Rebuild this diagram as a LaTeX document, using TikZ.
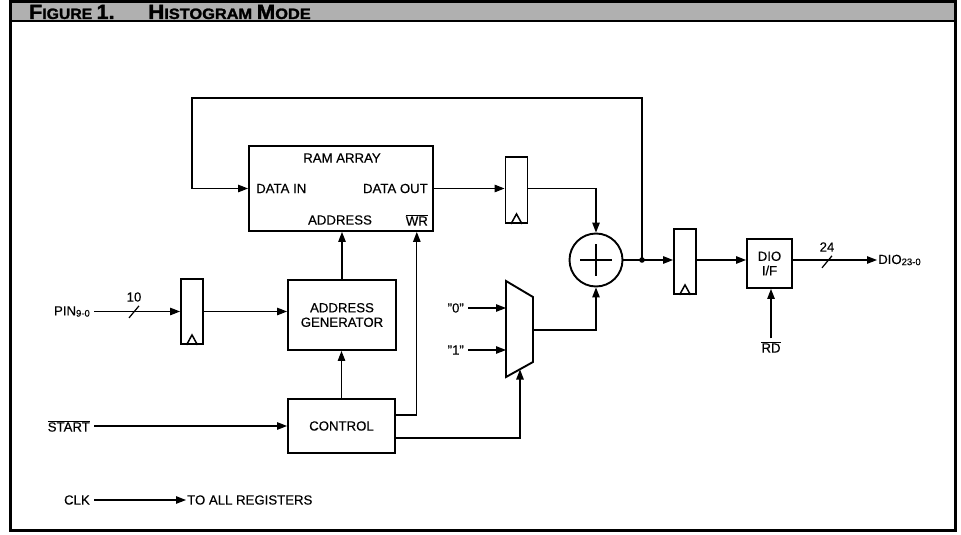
\documentclass[tikz,border=0pt]{standalone}
\usepackage{fontspec}
\setmainfont{Liberation Sans}[FakeBold=0.35]
\newfontfamily\ttlfont{Liberation Sans}[BoldFeatures={FakeBold=1.6}]
\usetikzlibrary{arrows.meta,calc}
\newcommand{\lblfont}{\fontsize{13.2}{14.5}\selectfont}
\newcommand{\subfont}{\fontsize{9.5}{9.5}\selectfont}
\newcommand{\ovl}[1]{$\overline{\hbox{#1}}$}
\newcommand{\ttlbig}{\fontsize{20.5}{20.5}\selectfont}
\newcommand{\ttlsmall}{\fontsize{15}{15}\selectfont}
\begin{document}
\begin{tikzpicture}[x=1pt,y=-1pt,
  box/.style={draw, line width=1.9pt, inner sep=0pt, align=center, font=\lblfont},
  reg/.style={draw, line width=1.9pt, minimum width=22pt, minimum height=65pt, inner sep=0pt},
  wire/.style={line width=1.2pt},
  arr/.style={wire, -{Triangle[length=10pt,width=7.5pt]}},
  lbl/.style={font=\lblfont, inner sep=1pt},
  clock/.style={line width=1.5pt}]
\useasboundingbox (0,0) rectangle (961,535);
% frame and banner
\fill[gray!62] (10,2) rectangle (955,21);
\draw[line width=2.2pt] (10,21) -- (955,21);
\draw[line width=3pt] (10,2) rectangle (955,530);
\node[anchor=west, inner sep=0pt, font=\ttlfont\bfseries] (t1) at (29,12)
  {\scalebox{1.05}[1]{\ttlbig F\ttlsmall IGURE \ttlbig 1.}};
\node[anchor=west, inner sep=0pt, font=\ttlfont\bfseries] (t2) at (148,12)
  {\scalebox{1.09}[1]{\ttlbig H\ttlsmall ISTOGRAM \ttlbig M\ttlsmall ODE}};

% blocks
\node[reg] (reg0) at (192,311.5) {};
\node[box, minimum width=108pt, minimum height=70pt] (ag) at (342,315) {ADDRESS\\GENERATOR};
\node[box, minimum width=184pt, minimum height=85pt] (ram) at (341,188.5) {};
\node[box, minimum width=107pt, minimum height=54pt] (ctrl) at (341.5,426) {CONTROL};
\node[reg, minimum height=66pt] (reg1) at (516.5,190) {};
\node[draw, circle, line width=1.9pt, minimum size=53pt, inner sep=0pt] (add) at (596,260) {};
\node[reg] (reg3) at (685,261.5) {};
\node[box, minimum width=45pt, minimum height=49pt] (dio) at (769.5,263.5) {DIO\\I/F};

% clock triangles
\draw[clock] ($(reg0.south)+(-5.5,0)$) -- ++(5.5,-10) -- ++(5.5,10);
\draw[clock] ($(reg1.south)+(-5.5,0)$) -- ++(5.5,-10) -- ++(5.5,10);
\draw[clock] ($(reg3.south)+(-5.5,0)$) -- ++(5.5,-10) -- ++(5.5,10);

% adder plus
\draw[line width=1.5pt] ($(add.center)+(-16,0)$) -- ($(add.center)+(16,0)$);
\draw[line width=1.5pt] ($(add.center)+(0,-16)$) -- ($(add.center)+(0,16)$);

% multiplexer
\draw[line width=1.9pt] (506,281) -- (533,297) -- (533,362) -- (506,377) -- cycle;
\coordinate (muxw) at (506,330);
\coordinate (muxo) at (533,330);
\coordinate (muxb) at (520,369.5);

% RAM labels
\node[lbl] (ramt) at (342,158) {RAM ARRAY};
\node[lbl, anchor=west] (din) at (255,188.5) {DATA IN};
\node[lbl, anchor=east] (dout) at (429,188.5) {DATA OUT};
\node[lbl] (addr) at (340,220) {ADDRESS};
\node[lbl, anchor=east] (wr) at (429,220) {\ovl{WR}};

% external labels
\node[lbl, anchor=east] (pin) at (91,311.5) {PIN\raisebox{-1.2pt}{\subfont 9-0}};
\node[lbl, anchor=east] (start) at (91,426) {\ovl{START}};
\node[lbl, anchor=east] (clk) at (91,500) {CLK};
\node[lbl, anchor=west] (toall) at (186,500) {TO ALL REGISTERS};
\node[lbl, anchor=east] (zero) at (465,308) {"0"};
\node[lbl, anchor=east] (one) at (465,350) {"1"};
\node[lbl] (rd) at (771,347) {\ovl{RD}};
\node[lbl, anchor=west] (dioout) at (877,260) {DIO\raisebox{-1.2pt}{\subfont 23-0}};
\node[lbl] (w10) at (134,297) {10};
\node[lbl] (w24) at (827,247) {24};

% connectors
\coordinate (tap) at (642,260);
\coordinate (fbl) at (192,98);
\draw[arr, shorten <=3pt] (pin.east) -- (reg0.west);
\draw[wire] ($(w10.south)+(-5,15)$) -- ($(w10.south)+(5,3)$);
\draw[arr] (reg0.east) -- (reg0.east -| ag.west);
\draw[arr] (ctrl.north) -- (ctrl.north |- ag.south);
\draw[arr] (ag.north) -- (ag.north |- ram.south);
\draw[arr] ([yshift=11pt]ctrl.east) -| (ram.south -| wr);
\draw[arr] ([yshift=-12pt]ctrl.east) -| (muxb);
\draw[arr, shorten <=3pt] (start.east) -- (ctrl.west);
\draw[arr] (tap) |- (fbl) |- (ram.west);
\draw[arr] (ram.east) -- (ram.east -| reg1.west);
\draw[arr] (ram.east -| reg1.east) -| (add.north);
\draw[wire] (add.east) -- (tap);
\fill (tap) circle (2.8pt);
\draw[arr] (tap) -- (tap -| reg3.west);
\draw[arr] (tap -| reg3.east) -- (tap -| dio.west);
\draw[arr] (tap -| dio.east) -- (dioout.west);
\draw[wire] ($(w24.south)+(-5,15)$) -- ($(w24.south)+(5,3)$);
\draw[arr, shorten <=2pt] (rd.north) -- (rd.north |- dio.south);
\draw[arr, shorten <=3pt] (zero.east) -- (zero.east -| muxw);
\draw[arr, shorten <=3pt] (one.east) -- (one.east -| muxw);
\draw[arr] (muxo) -| (add.south);
\draw[arr, shorten <=3pt] (clk.east) -- (toall.west);
\end{tikzpicture}
\end{document}
